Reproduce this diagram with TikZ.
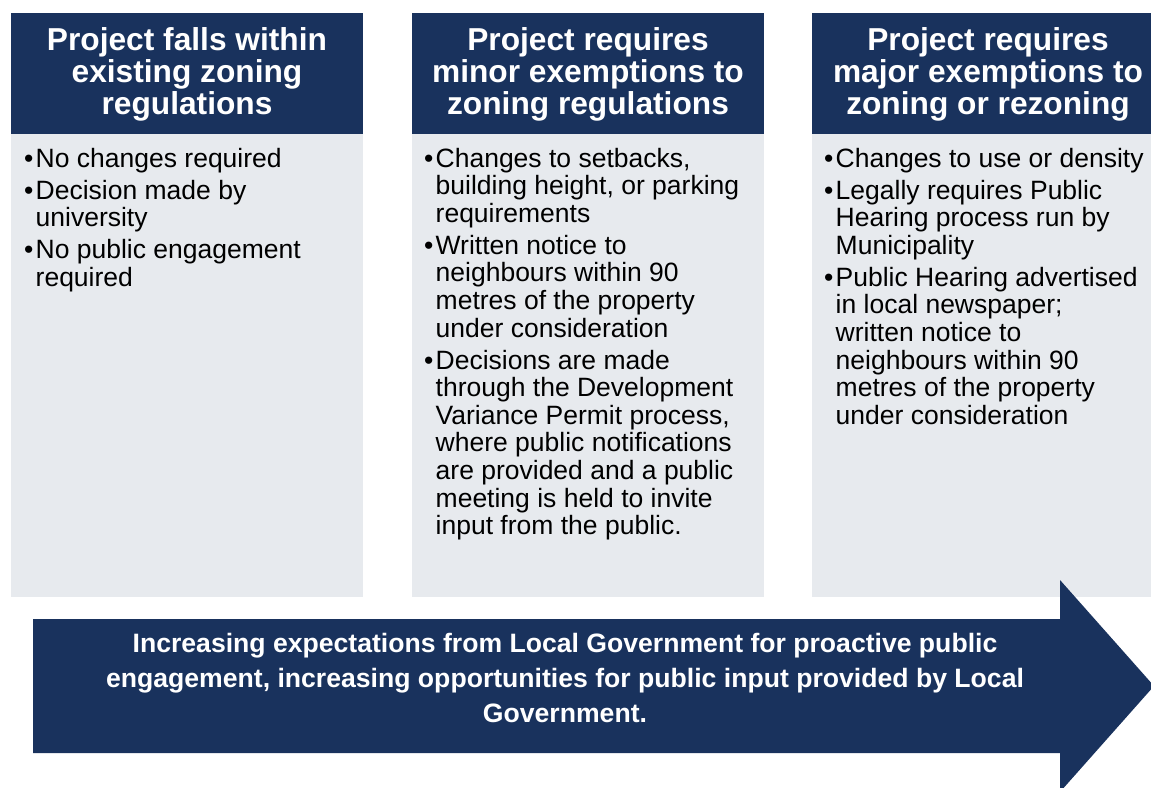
\documentclass[tikz,border=0pt]{standalone}
\usepackage{fontspec}
\setmainfont{Liberation Sans}
\definecolor{navy}{RGB}{25,50,93}
\definecolor{panel}{RGB}{231,234,238}
\newcommand{\bul}{\makebox[13.5pt][l]{\hspace{2pt}•}}
\newcommand{\itm}[1]{\par\hangindent=13.5pt\hangafter=1\noindent\bul #1\par}
\newcommand{\gap}{\vspace{4.4pt}}
\setlength{\parskip}{0pt}
\tikzset{
  headbox/.style={fill=navy},
  bodybox/.style={fill=panel},
  headtext/.style={anchor=base, inner sep=0, text=white,
    font=\fontsize{31.7}{32}\selectfont\bfseries},
  bodytext/.style={anchor=base west, inner sep=0, text=black,
    font=\fontsize{26.5}{27.6}\selectfont},
  arrowtext/.style={anchor=base, inner sep=0, text=white,
    font=\fontsize{26.6}{35.2}\selectfont\bfseries}
}
\begin{document}
\begin{tikzpicture}[x=1pt,y=-1pt]
\clip (0,0) rectangle (1151,787);
\fill[white] (0,0) rectangle (1151,787);
% column boxes
\fill[headbox] (11,13) rectangle (363,134);
\fill[bodybox] (11,134) rectangle (363,597);
\fill[headbox] (412,13) rectangle (764,134);
\fill[bodybox] (412,134) rectangle (764,597);
\fill[headbox] (812,13) rectangle (1164,134);
\fill[bodybox] (812,134) rectangle (1164,597);
% arrow
\fill[navy] (33,619) -- (1060,619) -- (1060,580) -- (1154,686) -- (1060,792) -- (1060,753) -- (33,753) -- cycle;
% headers
\node[headtext] (h1) at (187,50) {\begin{minipage}[t]{352pt}\centering Project falls within\\existing zoning\\regulations\end{minipage}};
\node[headtext] (h2) at (588,50) {\begin{minipage}[t]{352pt}\centering Project requires\\minor exemptions to\\zoning regulations\end{minipage}};
\node[headtext] (h3) at (988,50) {\begin{minipage}[t]{352pt}\centering Project requires\\major exemptions to\\zoning or rezoning\end{minipage}};
% bodies
\node[bodytext] (b1) at (22,167) {\begin{minipage}[t]{340pt}\raggedright
\itm{No changes required}\gap
\itm{Decision made by\newline university}\gap
\itm{No public engagement\newline required}
\end{minipage}};
\node[bodytext] (b2) at (422,167) {\begin{minipage}[t]{340pt}\raggedright
\itm{Changes to setbacks,\newline building height, or parking\newline requirements}\gap
\itm{Written notice to\newline neighbours within 90\newline metres of the property\newline under consideration}\gap
\itm{Decisions are made\newline through the Development\newline Variance Permit process,\newline where public notifications\newline are provided and a public\newline meeting is held to invite\newline input from the public.}
\end{minipage}};
\node[bodytext] (b3) at (822,167) {\begin{minipage}[t]{340pt}\raggedright
\itm{Changes to use or density}\gap
\itm{Legally requires Public\newline Hearing process run by\newline Municipality}\gap
\itm{Public Hearing advertised\newline in local newspaper;\newline written notice to\newline neighbours within 90\newline metres of the property\newline under consideration}
\end{minipage}};
% arrow text
\node[arrowtext] (at) at (565,652) {\begin{minipage}[t]{1000pt}\centering Increasing expectations from Local Government for proactive public\\engagement, increasing opportunities for public input provided by Local\\Government.\end{minipage}};
\end{tikzpicture}
\end{document}
